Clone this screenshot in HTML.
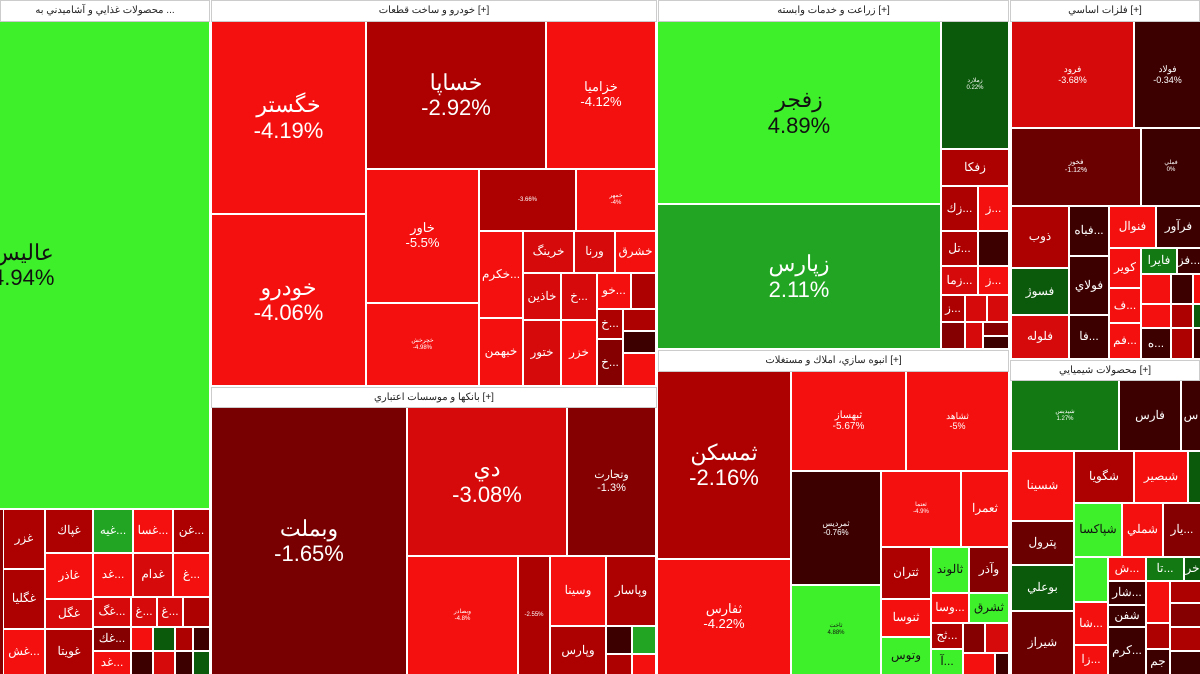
<!DOCTYPE html>
<html><head><meta charset="utf-8"><style>
body{margin:0;width:1200px;height:674px;background:#fff;position:relative;overflow:hidden;font-family:"Liberation Sans","Noto Sans CJK SC",sans-serif}
.c{position:absolute;box-sizing:border-box;display:flex;align-items:center;justify-content:center;text-align:center;color:#fff;overflow:hidden;line-height:1.15;font-size:12px;white-space:nowrap}
.h{position:absolute;box-sizing:border-box;background:#fff;color:#222;font-size:10px;text-align:center;line-height:20px;border:1px solid #ccc;overflow:hidden;white-space:nowrap}
.b{font-size:22px}.m{font-size:13px}.s{font-size:6px}
.R1{background:#f51010}.R2{background:#d60a0a}.R3{background:#ad0000}.R4{background:#850000}.D{background:#3d0000}
.G1{background:#3ef02a;color:#111}.G2{background:#22a522}.G3{background:#0b5a0b}
</style></head><body>
<!-- section 1 -->
<div class="h" style="left:0;top:0;width:210px;height:22px">محصولات غذايي و آشاميدني به ...</div>
<div class="c G1 b" style="left:0;top:22px;width:209px;height:486px;justify-content:flex-start"><span style="margin-left:-8px">عاليس<br>4.94%</span></div>
<div class="c R4" style="left:0;top:510px;width:3px;height:164px"></div>
<div class="c R3" style="left:4px;top:510px;width:40px;height:58px">غزر</div>
<div class="c R3" style="left:4px;top:570px;width:40px;height:58px">غگليا</div>
<div class="c R1" style="left:4px;top:630px;width:40px;height:44px">غش...</div>
<div class="c R3" style="left:46px;top:510px;width:46px;height:42px">غپاك</div>
<div class="c R1" style="left:46px;top:554px;width:46px;height:44px">غاذر</div>
<div class="c R2" style="left:46px;top:600px;width:46px;height:28px">غگل</div>
<div class="c R3" style="left:46px;top:630px;width:46px;height:44px">غويتا</div>
<div class="c G2" style="left:94px;top:510px;width:38px;height:42px">غيه...</div>
<div class="c R1" style="left:134px;top:510px;width:38px;height:42px">غسا...</div>
<div class="c R3" style="left:174px;top:510px;width:35px;height:42px">غن...</div>
<div class="c R1" style="left:94px;top:554px;width:38px;height:42px">غد...</div>
<div class="c R2" style="left:134px;top:554px;width:38px;height:42px">غدام</div>
<div class="c R1" style="left:174px;top:554px;width:35px;height:42px">غ...</div>
<div class="c R2" style="left:94px;top:598px;width:36px;height:28px">غگ...</div>
<div class="c R2" style="left:132px;top:598px;width:24px;height:28px">غ...</div>
<div class="c R2" style="left:158px;top:598px;width:24px;height:28px">غ...</div>
<div class="c R3" style="left:184px;top:598px;width:25px;height:28px"></div>
<div class="c R4" style="left:94px;top:628px;width:36px;height:22px">غك...</div>
<div class="c R1" style="left:94px;top:652px;width:36px;height:22px">غد...</div>
<div class="c R1" style="left:132px;top:628px;width:20px;height:22px"></div>
<div class="c G3" style="left:154px;top:628px;width:20px;height:22px"></div>
<div class="c R3" style="left:176px;top:628px;width:16px;height:22px"></div>
<div class="c D" style="left:194px;top:628px;width:15px;height:22px"></div>
<div class="c D" style="left:132px;top:652px;width:20px;height:22px"></div>
<div class="c R2" style="left:154px;top:652px;width:20px;height:22px"></div>
<div class="c D" style="left:176px;top:652px;width:16px;height:22px"></div>
<div class="c G3" style="left:194px;top:652px;width:15px;height:22px"></div>
<!-- section 2 -->
<div class="h" style="left:211px;top:0;width:446px;height:22px">خودرو و ساخت قطعات [+]</div>
<div class="c R1 b" style="left:212px;top:22px;width:153px;height:191px">خگستر<br>-4.19%</div>
<div class="c R1 b" style="left:212px;top:215px;width:153px;height:170px">خودرو<br>-4.06%</div>
<div class="c R3 b" style="left:367px;top:22px;width:178px;height:146px">خساپا<br>-2.92%</div>
<div class="c R1 m" style="left:547px;top:22px;width:108px;height:146px">خزاميا<br>-4.12%</div>
<div class="c R1 m" style="left:367px;top:170px;width:111px;height:132px">خاور<br>-5.5%</div>
<div class="c R1 s" style="left:367px;top:304px;width:111px;height:81px">خچرخش<br>-4.98%</div>
<div class="c R3 s" style="left:480px;top:170px;width:95px;height:60px">-3.66%</div>
<div class="c R1 s" style="left:577px;top:170px;width:78px;height:60px">خمهر<br>-4%</div>
<div class="c R1" style="left:480px;top:232px;width:42px;height:85px">خكرم...</div>
<div class="c R1" style="left:480px;top:319px;width:42px;height:66px">خبهمن</div>
<div class="c R2" style="left:524px;top:232px;width:49px;height:40px">خرينگ</div>
<div class="c R2" style="left:575px;top:232px;width:39px;height:40px">ورنا</div>
<div class="c R1" style="left:616px;top:232px;width:39px;height:40px">خشرق</div>
<div class="c R2" style="left:524px;top:274px;width:36px;height:45px">خاذين</div>
<div class="c R2" style="left:524px;top:321px;width:36px;height:64px">ختور</div>
<div class="c R2" style="left:562px;top:274px;width:34px;height:45px">خ...</div>
<div class="c R1" style="left:562px;top:321px;width:34px;height:64px">خزر</div>
<div class="c R1" style="left:598px;top:274px;width:32px;height:34px">خو...</div>
<div class="c R3" style="left:632px;top:274px;width:23px;height:34px"></div>
<div class="c R3" style="left:598px;top:310px;width:24px;height:28px">خ...</div>
<div class="c R4" style="left:598px;top:340px;width:24px;height:45px">خ...</div>
<div class="c R3" style="left:624px;top:310px;width:31px;height:20px"></div>
<div class="c D" style="left:624px;top:332px;width:31px;height:20px"></div>
<div class="c R1" style="left:624px;top:354px;width:31px;height:31px"></div>
<!-- section 3 banks -->
<div class="h" style="left:211px;top:387px;width:446px;height:21px">بانكها و موسسات اعتباري [+]</div>
<div class="c R4 b" style="left:212px;top:408px;width:194px;height:266px;background:#780000">وبملت<br>-1.65%</div>
<div class="c R2 b" style="left:408px;top:408px;width:158px;height:147px">دي<br>-3.08%</div>
<div class="c R4" style="left:568px;top:408px;width:87px;height:147px;font-size:11px">وتجارت<br>-1.3%</div>
<div class="c R1 s" style="left:408px;top:557px;width:109px;height:117px">وبصادر<br>-4.8%</div>
<div class="c R3 s" style="left:519px;top:557px;width:30px;height:117px">-2.55%</div>
<div class="c R1" style="left:551px;top:557px;width:54px;height:68px">وسينا</div>
<div class="c R3" style="left:607px;top:557px;width:48px;height:68px">وپاسار</div>
<div class="c R3" style="left:551px;top:627px;width:54px;height:47px">وپارس</div>
<div class="c D" style="left:607px;top:627px;width:24px;height:26px"></div>
<div class="c G2" style="left:633px;top:627px;width:22px;height:26px"></div>
<div class="c R3" style="left:607px;top:655px;width:24px;height:19px"></div>
<div class="c R1" style="left:633px;top:655px;width:22px;height:19px"></div>
<!-- section 4 -->
<div class="h" style="left:658px;top:0;width:351px;height:22px">زراعت و خدمات وابسته [+]</div>
<div class="c G1 b" style="left:658px;top:22px;width:282px;height:181px">زفجر<br>4.89%</div>
<div class="c G2 b" style="left:658px;top:205px;width:282px;height:143px">زپارس<br>2.11%</div>
<div class="c G3 s" style="left:942px;top:22px;width:66px;height:126px">زملارد<br>0.22%</div>
<div class="c R3" style="left:942px;top:150px;width:66px;height:35px">زفكا</div>
<div class="c R3" style="left:942px;top:187px;width:35px;height:43px">زك...</div>
<div class="c R1" style="left:979px;top:187px;width:29px;height:43px">ز...</div>
<div class="c R3" style="left:942px;top:232px;width:35px;height:33px">تل...</div>
<div class="c D" style="left:979px;top:232px;width:29px;height:33px"></div>
<div class="c R2" style="left:942px;top:267px;width:35px;height:27px">زما...</div>
<div class="c R1" style="left:979px;top:267px;width:29px;height:27px">ز...</div>
<div class="c R3" style="left:942px;top:296px;width:22px;height:25px">ز...</div>
<div class="c R2" style="left:966px;top:296px;width:20px;height:25px"></div>
<div class="c R2" style="left:988px;top:296px;width:20px;height:25px"></div>
<div class="c R4" style="left:942px;top:323px;width:22px;height:25px"></div>
<div class="c R2" style="left:966px;top:323px;width:16px;height:25px"></div>
<div class="c R4" style="left:984px;top:323px;width:24px;height:12px"></div>
<div class="c D" style="left:984px;top:337px;width:24px;height:11px"></div>
<!-- section 5 -->
<div class="h" style="left:658px;top:350px;width:351px;height:22px">انبوه سازي، املاك و مستغلات [+]</div>
<div class="c R3 b" style="left:658px;top:372px;width:132px;height:186px">ثمسكن<br>-2.16%</div>
<div class="c R1 m" style="left:658px;top:560px;width:132px;height:114px">ثفارس<br>-4.22%</div>
<div class="c R1" style="left:792px;top:372px;width:113px;height:98px;font-size:10px">ثبهساز<br>-5.67%</div>
<div class="c R1" style="left:907px;top:372px;width:101px;height:98px;font-size:9px">ثشاهد<br>-5%</div>
<div class="c D" style="left:792px;top:472px;width:88px;height:112px;font-size:8px">ثمرديس<br>-0.76%</div>
<div class="c R1 s" style="left:882px;top:472px;width:78px;height:74px">ثعتما<br>-4.9%</div>
<div class="c R1" style="left:962px;top:472px;width:46px;height:74px">ثعمرا</div>
<div class="c G1 s" style="left:792px;top:586px;width:88px;height:88px">ثاخت<br>4.88%</div>
<div class="c R3" style="left:882px;top:548px;width:48px;height:50px">ثتران</div>
<div class="c G1" style="left:932px;top:548px;width:36px;height:44px">ثالوند</div>
<div class="c R4" style="left:970px;top:548px;width:38px;height:44px">وآذر</div>
<div class="c R1" style="left:882px;top:600px;width:48px;height:36px">ثنوسا</div>
<div class="c G1" style="left:882px;top:638px;width:48px;height:36px">وتوس</div>
<div class="c R1" style="left:932px;top:594px;width:36px;height:28px">وسا...</div>
<div class="c G1" style="left:970px;top:594px;width:38px;height:28px">ثشرق</div>
<div class="c R3" style="left:932px;top:624px;width:30px;height:24px">ثج...</div>
<div class="c G1" style="left:932px;top:650px;width:30px;height:24px">آ...</div>
<div class="c R4" style="left:964px;top:624px;width:20px;height:28px"></div>
<div class="c R2" style="left:986px;top:624px;width:22px;height:28px"></div>
<div class="c R1" style="left:964px;top:654px;width:30px;height:20px"></div>
<div class="c D" style="left:996px;top:654px;width:12px;height:20px"></div>
<!-- section 6 -->
<div class="h" style="left:1010px;top:0;width:190px;height:22px">فلزات اساسي [+]</div>
<div class="c R2" style="left:1012px;top:22px;width:121px;height:105px;font-size:9px">فرود<br>-3.68%</div>
<div class="c D" style="left:1135px;top:22px;width:65px;height:105px;font-size:9px">فولاد<br>-0.34%</div>
<div class="c R4" style="left:1012px;top:129px;width:128px;height:76px;font-size:7px;background:#6a0000">فخوز<br>-1.12%</div>
<div class="c D" style="left:1142px;top:129px;width:58px;height:76px;font-size:6px">فملي<br>0%</div>
<div class="c R3" style="left:1012px;top:207px;width:56px;height:60px">ذوب</div>
<div class="c G3" style="left:1012px;top:269px;width:56px;height:45px">فسوژ</div>
<div class="c R2" style="left:1012px;top:316px;width:56px;height:42px">فلوله</div>
<div class="c D" style="left:1070px;top:207px;width:38px;height:48px">فباه...</div>
<div class="c D" style="left:1070px;top:257px;width:38px;height:57px">فولاي</div>
<div class="c D" style="left:1070px;top:316px;width:38px;height:42px">فا...</div>
<div class="c R1" style="left:1110px;top:207px;width:45px;height:40px">فنوال</div>
<div class="c D" style="left:1157px;top:207px;width:43px;height:40px">فرآور</div>
<div class="c R1" style="left:1110px;top:249px;width:30px;height:38px">كوير</div>
<div class="c R1" style="left:1110px;top:289px;width:30px;height:33px">ف...</div>
<div class="c R1" style="left:1110px;top:324px;width:30px;height:34px">فم...</div>
<div class="c G2" style="left:1142px;top:249px;width:34px;height:24px;background:#137a13">فايرا</div>
<div class="c D" style="left:1178px;top:249px;width:22px;height:24px">فز...</div>
<div class="c R1" style="left:1142px;top:275px;width:28px;height:28px"></div>
<div class="c D" style="left:1172px;top:275px;width:20px;height:28px"></div>
<div class="c R1" style="left:1194px;top:275px;width:6px;height:28px"></div>
<div class="c R1" style="left:1142px;top:305px;width:28px;height:22px"></div>
<div class="c R3" style="left:1172px;top:305px;width:20px;height:22px"></div>
<div class="c D" style="left:1142px;top:329px;width:28px;height:29px">ه...</div>
<div class="c R3" style="left:1172px;top:329px;width:20px;height:29px"></div>
<div class="c G3" style="left:1194px;top:305px;width:6px;height:22px"></div>
<div class="c D" style="left:1194px;top:329px;width:6px;height:29px"></div>
<!-- section 7 -->
<div class="h" style="left:1010px;top:360px;width:190px;height:21px">محصولات شيميايي [+]</div>
<div class="c G2 s" style="left:1012px;top:381px;width:106px;height:69px;background:#137a13">شپديس<br>1.27%</div>
<div class="c D" style="left:1120px;top:381px;width:60px;height:69px">فارس</div>
<div class="c D" style="left:1182px;top:381px;width:18px;height:69px">س</div>
<div class="c R1" style="left:1012px;top:452px;width:61px;height:68px">شسينا</div>
<div class="c R3" style="left:1075px;top:452px;width:58px;height:50px">شگويا</div>
<div class="c R1" style="left:1135px;top:452px;width:52px;height:50px">شبصير</div>
<div class="c G3" style="left:1189px;top:452px;width:11px;height:50px"></div>
<div class="c R4" style="left:1012px;top:522px;width:61px;height:42px;background:#6a0000">پترول</div>
<div class="c G3" style="left:1012px;top:566px;width:61px;height:44px">بوعلي</div>
<div class="c R4" style="left:1012px;top:612px;width:61px;height:62px;background:#6a0000">شيراز</div>
<div class="c G1" style="left:1075px;top:504px;width:46px;height:52px">شپاكسا</div>
<div class="c R1" style="left:1123px;top:504px;width:39px;height:52px">شملي</div>
<div class="c R4" style="left:1164px;top:504px;width:36px;height:52px">يار...</div>
<div class="c G1" style="left:1075px;top:558px;width:32px;height:43px"></div>
<div class="c R1" style="left:1075px;top:603px;width:32px;height:41px">شا...</div>
<div class="c R1" style="left:1075px;top:646px;width:32px;height:28px">زا...</div>
<div class="c R1" style="left:1109px;top:558px;width:36px;height:22px">ش...</div>
<div class="c G2" style="left:1147px;top:558px;width:36px;height:22px;background:#137a13">تا...</div>
<div class="c G3" style="left:1185px;top:558px;width:15px;height:22px">خر</div>
<div class="c D" style="left:1109px;top:582px;width:36px;height:22px">شار...</div>
<div class="c D" style="left:1109px;top:606px;width:36px;height:20px">شفن</div>
<div class="c D" style="left:1109px;top:628px;width:36px;height:46px">كرم...</div>
<div class="c R1" style="left:1147px;top:582px;width:22px;height:40px"></div>
<div class="c R3" style="left:1171px;top:582px;width:29px;height:20px"></div>
<div class="c R4" style="left:1171px;top:604px;width:29px;height:22px"></div>
<div class="c R3" style="left:1147px;top:624px;width:22px;height:24px"></div>
<div class="c D" style="left:1147px;top:650px;width:22px;height:24px">جم</div>
<div class="c R3" style="left:1171px;top:628px;width:29px;height:22px"></div>
<div class="c D" style="left:1171px;top:652px;width:29px;height:22px"></div>
</body></html>
